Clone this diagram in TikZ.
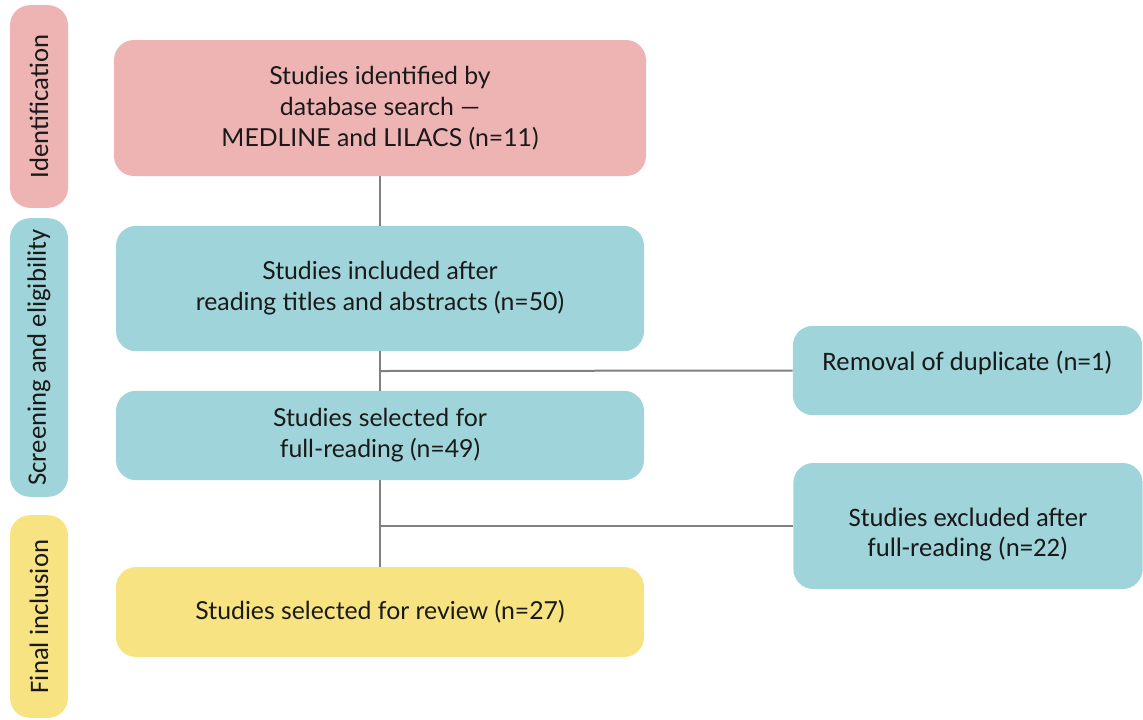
\documentclass[tikz,border=0pt]{standalone}
\usepackage{fontspec}
\setmainfont{Lato}
\newfontfamily\sidefont{Carlito}
\definecolor{pinkbox}{RGB}{238,180,179}
\definecolor{tealbox}{RGB}{159,213,218}
\definecolor{yellowbox}{RGB}{247,227,130}
\definecolor{linegray}{RGB}{128,128,128}
\definecolor{txt}{RGB}{25,25,25}
\tikzset{
  mainbox/.style={rectangle, rounded corners=15pt, minimum width=396pt, align=center, text=txt, font=\fontsize{18.6}{23.25}\selectfont, inner sep=0pt},
  sidebox/.style={rectangle, rounded corners=15pt, minimum width=262pt, text=txt, font=\sidefont\fontsize{20}{22.5}\selectfont, inner sep=0pt},
  phase/.style={rectangle, rounded corners=15pt, rotate=90, minimum height=43.5pt, text=txt, font=\sidefont\fontsize{20}{22}\selectfont, inner sep=0pt},
  conn/.style={draw=linegray, line width=1.5pt}
}
\begin{document}
\begin{tikzpicture}[x=0.75pt,y=-0.75pt]
\useasboundingbox (0,0) rectangle (1143,719);
% phase labels
\node[phase, fill=pinkbox, minimum width=152pt] (p1) at (39,106.5) {Identification};
\node[phase, fill=tealbox, minimum width=209pt] (p2) at (39,357.5) {Screening and eligibility};
\node[phase, fill=yellowbox, minimum width=152pt] (p3) at (39,616.5) {Final inclusion};
% main boxes
\node[mainbox, fill=pinkbox, minimum width=399pt, minimum height=102pt] (b1) at (380,108) {Studies identified by\\database search —\\MEDLINE and LILACS (n=11)};
\node[mainbox, fill=tealbox, minimum height=94pt] (b2) at (380,288.5) {Studies included after\\reading titles and abstracts (n=50)};
\node[mainbox, fill=tealbox, minimum height=67pt] (b3) at (380,435.5) {Studies selected for\\full-reading (n=49)};
\node[mainbox, fill=yellowbox, minimum height=67.5pt] (b4) at (380,612) {Studies selected for review (n=27)};
% side boxes
\node[sidebox, fill=tealbox, minimum height=67pt] (rem) at (967.5,370.5) {\smash{Removal of duplicate (n=1)}};
\node[sidebox, fill=tealbox, minimum height=94.5pt] (exc) at (968,526) {\raisebox{-25pt}{\smash{\begin{tabular}{@{}c@{}}Studies excluded after\\full-reading (n=22)\end{tabular}}}};
% connectors
\coordinate (j1) at (380,371);
\coordinate (j2) at (380,526);
\draw[conn] (b1.south) -- (b2.north);
\draw[conn] (b2.south) -- (b3.north);
\draw[conn] (b3.south) -- (b4.north);
\draw[conn] (j1) -- (rem.west);
\draw[conn] (j2) -- (exc.west);
\end{tikzpicture}
\end{document}
